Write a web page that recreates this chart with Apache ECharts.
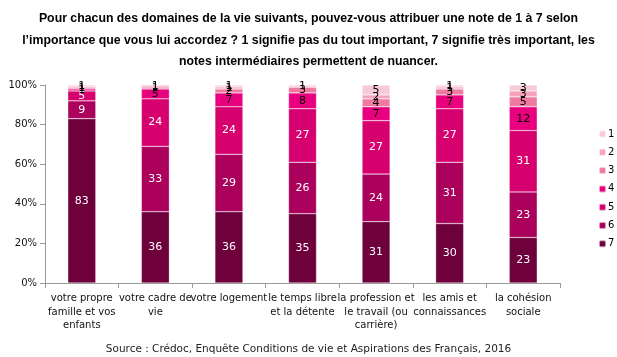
<!DOCTYPE html>
<html><head><meta charset="utf-8">
<script src="https://cdn.jsdelivr.net/npm/echarts@6/dist/echarts.min.js"></script>
<style>html,body{margin:0;padding:0;background:#fff}#c{width:617px;height:357px}</style>
</head><body><div id="c"></div>
<script>
var categories = ["votre propre\nfamille et vos\nenfants","votre cadre de\nvie","votre logement","le temps libre\net la détente","la profession et\nle travail (ou\ncarrière)","les amis et\nconnaissances","la cohésion\nsociale"];
var note7 = [83,36,36,35,31,30,23];
var note6 = [9,33,29,26,24,31,23];
var note5 = [5,24,24,27,27,27,31];
var note4 = [1,5,7,8,7,7,12];
var note3 = [1,1,2,3,4,3,5];
var note2 = [0,1,1,0,2,1,3];
var note1 = [1,0,1,1,5,1,3];
var yTicks = [0,20,40,60,80,100];
var seriesNames = ["7","6","5","4","3","2","1"];
var seriesData = [note7,note6,note5,note4,note3,note2,note1];
var colors = ["#6e003c","#ab005c","#d6006f","#e8007f","#ef79a0","#f4a3bb","#f8c9d7"];
var labelColors = ["#fff","#fff","#fff","#000","#000","#000","#000"];
var chart = echarts.init(document.getElementById('c'));
var series = seriesNames.map(function(n,i){
  return {
    name:n, type:'bar', stack:'s', barWidth:28,
    data:seriesData[i],
    itemStyle:{color:colors[i], borderColor:'rgba(255,255,255,0.6)', borderWidth:0.5},
    label:{show:true, color:labelColors[i], fontFamily:'DejaVu Sans', fontSize:11,
      formatter:function(p){return p.value>0?p.value:'';}}
  };
});
chart.setOption({
  animation:false,
  title:{text:"Pour chacun des domaines de la vie suivants, pouvez-vous attribuer une note de 1 à 7 selon\nl’importance que vous lui accordez ? 1 signifie pas du tout important, 7 signifie très important, les\nnotes intermédiaires permettent de nuancer.",
    left:'center', top:3,
    textStyle:{fontFamily:'Liberation Sans', fontWeight:'bold', fontSize:12.3, lineHeight:21.5, color:'#000'}},
  graphic:[{type:'text', left:'center', top:344, style:{text:'Source : Crédoc, Enquête Conditions de vie et Aspirations des Français, 2016', font:'10.5px DejaVu Sans', fill:'#222'}}],
  legend:{orient:'vertical', left:593, top:124, itemWidth:7, itemHeight:7, itemGap:8.3,
    data:["1","2","3","4","5","6","7"], textStyle:{fontFamily:'DejaVu Sans', fontSize:10, color:'#000', padding:[0,0,0,-3]}},
  grid:{left:45, right:57, top:85, bottom:74},
  xAxis:{type:'category', data:categories,
    axisLine:{lineStyle:{color:'#999'}}, axisTick:{show:true, alignWithLabel:false, lineStyle:{color:'#999'}},
    axisLabel:{interval:0, fontFamily:'DejaVu Sans', fontSize:10, color:'#111', lineHeight:13.5, margin:9}},
  yAxis:{type:'value', min:0, max:100, interval:20,
    axisLine:{show:true, lineStyle:{color:'#999'}}, axisTick:{show:true, lineStyle:{color:'#999'}},
    splitLine:{show:false},
    axisLabel:{fontFamily:'DejaVu Sans', fontSize:10, color:'#111', formatter:function(v){return v+'%';}}},
  series:series
});
</script></body></html>
